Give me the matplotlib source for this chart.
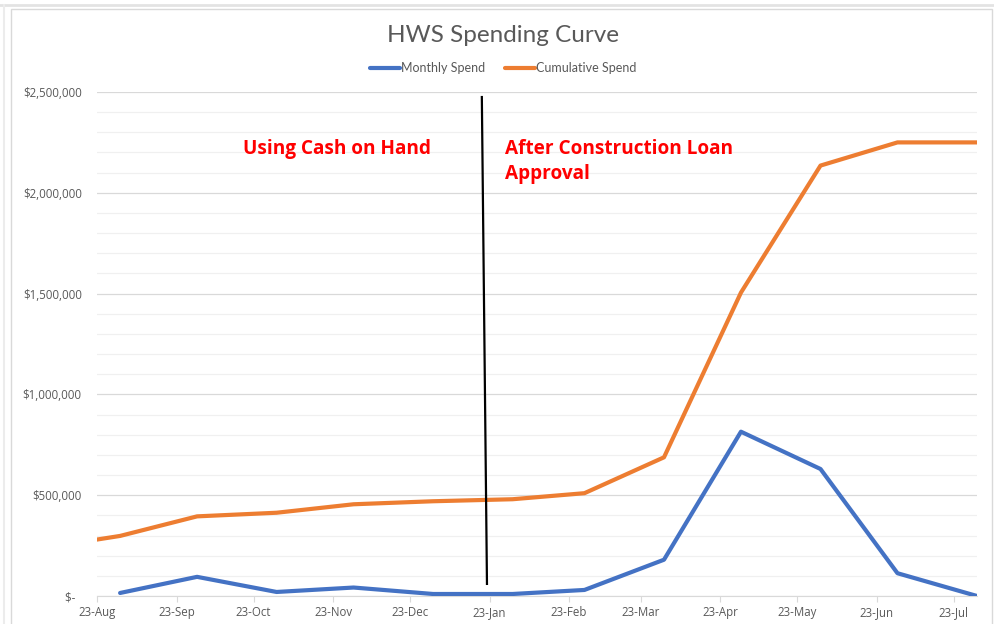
import datetime as dt

import matplotlib
matplotlib.use("Agg")
import matplotlib.pyplot as plt
import matplotlib.dates as mdates
import matplotlib.ticker as mticker
from matplotlib.lines import Line2D
from matplotlib.patches import Rectangle
import numpy as np

# dates of each data point (first orange point is the starting balance)
dates = [dt.date(2022, 8, 23), dt.date(2022, 9, 1), dt.date(2022, 10, 1),
         dt.date(2022, 11, 1), dt.date(2022, 12, 1), dt.date(2023, 1, 1),
         dt.date(2023, 2, 1), dt.date(2023, 3, 1), dt.date(2023, 4, 1),
         dt.date(2023, 5, 1), dt.date(2023, 6, 1), dt.date(2023, 7, 1),
         dt.date(2023, 8, 1)]
monthly = [np.nan, 15000, 95000, 20000, 42000, 10000, 10000, 30000,
           180000, 815000, 630000, 113000, 0]
cumulative = [280000, 298000, 395000, 413000, 455000, 470000, 480000,
              510000, 688000, 1505000, 2135000, 2250000, 2250000]
tick_dates = [dt.date(2022, m, 23) for m in range(8, 13)] + \
             [dt.date(2023, m, 23) for m in range(1, 8)]
divider = [(dt.date(2023, 1, 20), 2475000), (dt.date(2023, 1, 22), 60000)]

BLUE = "#4472C4"
ORANGE = "#ED7D31"
GREY = "#595959"
FONT = "Open Sans"
NARROW = "Lato"

fig = plt.figure(figsize=(9.94, 6.24), dpi=100)
fig.patch.set_facecolor("white")

# outer frame like the screenshot
fig.add_artist(Line2D([0, 1], [1 - 5 / 624, 1 - 5 / 624], color="#e3e3e3", lw=2))
fig.add_artist(Line2D([4 / 994, 4 / 994], [0, 1 - 5 / 624], color="#ececec", lw=1.5))
fig.add_artist(Rectangle((11 / 994, -0.1), (992 - 11) / 994, 1.1 - 9 / 624,
                         fill=False, edgecolor="#d9d9d9", lw=1))

ax = fig.add_axes([97 / 994, 1 - 596 / 624, (977 - 97) / 994, (596 - 92) / 624])

ax.plot(dates, monthly, color=BLUE, lw=3, solid_capstyle="round",
        solid_joinstyle="round", label="Monthly Spend", zorder=3)
ax.plot(dates, cumulative, color=ORANGE, lw=3, solid_capstyle="round",
        solid_joinstyle="round", label="Cumulative Spend", zorder=3)

ax.plot([divider[0][0], divider[1][0]], [divider[0][1], divider[1][1]],
        color="black", lw=1.6, zorder=4)

ax.set_xlim(dates[0], dates[-1])
ax.set_ylim(0, 2500000)

ax.set_xticks(tick_dates)
ax.xaxis.set_major_formatter(mdates.DateFormatter("%d-%b"))
ax.yaxis.set_major_locator(mticker.MultipleLocator(500000))
ax.yaxis.set_minor_locator(mticker.MultipleLocator(100000))
ax.yaxis.set_major_formatter(mticker.FuncFormatter(
    lambda v, p: "$-  " if v == 0 else "${:,.0f}".format(v)))

ax.grid(axis="y", which="major", color="#d9d9d9", lw=0.9, zorder=0)
ax.grid(axis="y", which="minor", color="#f0f0f0", lw=0.9, zorder=0)
ax.set_axisbelow(True)

for s in ["top", "right", "left"]:
    ax.spines[s].set_visible(False)
ax.spines["bottom"].set_color("#d9d9d9")
ax.tick_params(axis="x", colors="#d9d9d9", length=4, width=0.8, pad=3)
ax.tick_params(axis="y", which="both", length=0, pad=11)
for lab in ax.get_xticklabels() + ax.get_yticklabels():
    lab.set_color(GREY)
    lab.set_fontfamily(FONT)
    lab.set_fontsize(8.3)

fig.text(503 / 994, 1 - 35 / 624, "HWS Spending Curve", ha="center", va="center",
         fontsize=17.5, color=GREY, family=NARROW)
leg = fig.legend(loc="center", bbox_to_anchor=(503 / 994, 1 - 68 / 624), ncol=2,
                 frameon=False, handlelength=2.4, handletextpad=0.05,
                 columnspacing=1.6, prop={"family": NARROW, "size": 9})
for t in leg.get_texts():
    t.set_color(GREY)

red = dict(color="red", fontsize=13.7, fontweight="bold", family=FONT,
           ha="left", va="baseline")
ax.text(dt.date(2022, 10, 19), 2192000, "Using Cash on Hand", **red)
ax.text(dt.date(2023, 1, 29), 2192000, "After Construction Loan", **red)
ax.text(dt.date(2023, 1, 29), 2068000, "Approval", **red)

fig.savefig("out.png", dpi=100, facecolor="white")
